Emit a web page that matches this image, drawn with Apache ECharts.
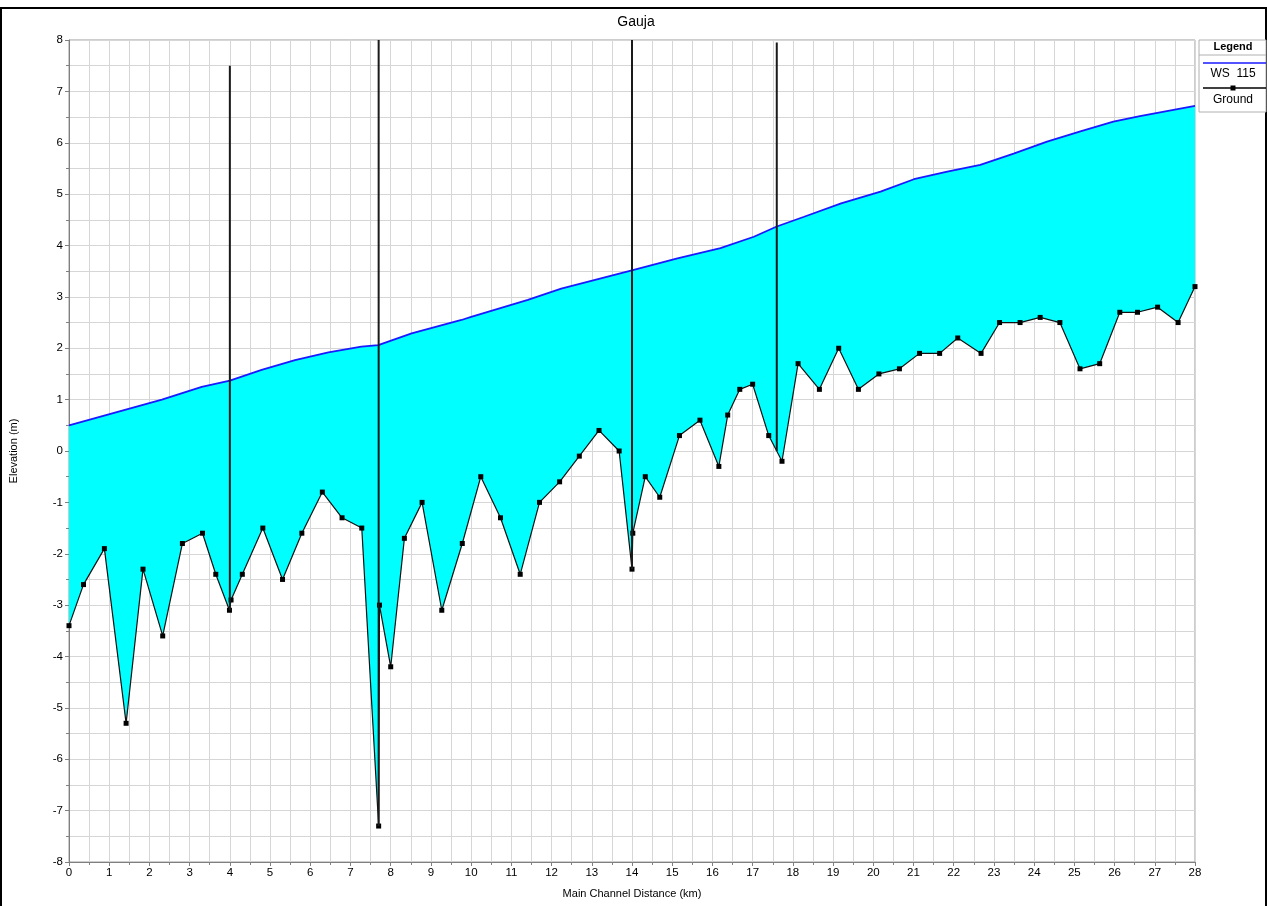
<!DOCTYPE html>
<html>
<head>
<meta charset="utf-8">
<script src="https://cdn.jsdelivr.net/npm/echarts@6/dist/echarts.min.js"></script>
<style>
html,body{margin:0;padding:0;background:#fff;}
#chart{width:1267px;height:906px;}
</style>
</head>
<body>
<div id="chart"></div>
<script>
// ---- Data ----
const chartTitle = 'Gauja';
const xAxisName = 'Main Channel Distance (km)';
const yAxisName = 'Elevation (m)';
const wsName = 'WS  115';
const groundName = 'Ground';

const wsX = [0, 2.31, 3.3, 4.0, 4.79, 5.62, 6.45, 7.27, 7.69, 8.52, 9.76, 10.0, 11.41, 12.24, 14.02, 15.13, 16.2, 17.03, 17.6, 18.28, 19.2, 20.18, 21.01, 21.84, 22.66, 23.49, 24.32, 25.15, 25.97, 26.63, 28];
const wsY = [0.5, 1.0, 1.25, 1.37, 1.58, 1.77, 1.92, 2.03, 2.06, 2.29, 2.55, 2.61, 2.94, 3.16, 3.52, 3.75, 3.95, 4.17, 4.37, 4.56, 4.82, 5.05, 5.29, 5.44, 5.57, 5.79, 6.02, 6.22, 6.41, 6.52, 6.72];

const groundX = [0.0, 0.36, 0.88, 1.42, 1.84, 2.33, 2.82, 3.32, 3.65, 3.99, 4.03, 4.31, 4.82, 5.31, 5.79, 6.30, 6.79, 7.28, 7.70, 7.72, 8.00, 8.34, 8.78, 9.27, 9.78, 10.24, 10.73, 11.22, 11.70, 12.20, 12.69, 13.18, 13.68, 14.00, 14.02, 14.33, 14.69, 15.18, 15.69, 16.16, 16.38, 16.68, 17.00, 17.40, 17.73, 18.13, 18.66, 19.14, 19.63, 20.14, 20.65, 21.15, 21.65, 22.10, 22.68, 23.14, 23.65, 24.15, 24.64, 25.14, 25.63, 26.13, 26.57, 27.07, 27.58, 28.00];
const groundY = [-3.4, -2.6, -1.9, -5.3, -2.3, -3.6, -1.8, -1.6, -2.4, -3.1, -2.9, -2.4, -1.5, -2.5, -1.6, -0.8, -1.3, -1.5, -7.3, -3.0, -4.2, -1.7, -1.0, -3.1, -1.8, -0.5, -1.3, -2.4, -1.0, -0.6, -0.1, 0.4, 0.0, -2.3, -1.6, -0.5, -0.9, 0.3, 0.6, -0.3, 0.7, 1.2, 1.3, 0.3, -0.2, 1.7, 1.2, 2.0, 1.2, 1.5, 1.6, 1.9, 1.9, 2.2, 1.9, 2.5, 2.5, 2.6, 2.5, 1.6, 1.7, 2.7, 2.7, 2.8, 2.5, 3.2];

// vertical structure lines (station, bottom, top)
const structX = [4.0, 7.7, 14.0, 17.6];
const structBottom = [-3.1, -7.3, -2.3, 0.0];
const structTop = [7.5, 8.0, 8.0, 7.95];

const xMin = 0, xMax = 28, xStep = 1;
const yMin = -8, yMax = 8, yStep = 1;

// ---- Chart ----
const FONT = '"Liberation Sans", Arial, sans-serif';
const chart = echarts.init(document.getElementById('chart'), null, {renderer: 'canvas'});

const wsData = wsX.map((x, i) => [x, wsY[i]]);
const groundData = groundX.map((x, i) => [x, groundY[i]]);
const structData = structX.map((x, i) => [x, structBottom[i], structTop[i]]);

const gridColor = '#d6d6d6';

const option = {
  animation: false,
  backgroundColor: '#ffffff',
  title: {
    text: chartTitle,
    left: 631,
    top: 10,
    textAlign: 'center',
    textStyle: {fontFamily: FONT, fontSize: 14, fontWeight: 'normal', color: '#000'}
  },
  grid: {left: 67, right: 72, top: 40, bottom: 44, show: true, borderColor: '#9a9a9a', borderWidth: 1},
  xAxis: {
    type: 'value', min: xMin, max: xMax, interval: xStep,
    name: xAxisName, nameLocation: 'middle', nameGap: 26,
    nameTextStyle: {fontFamily: FONT, fontSize: 11, color: '#000'},
    axisLine: {show: true, onZero: false, lineStyle: {color: '#808080'}},
    axisTick: {show: true, length: 4, lineStyle: {color: '#808080'}},
    minorTick: {show: true, splitNumber: 2, length: 3, lineStyle: {color: '#808080'}},
    axisLabel: {fontFamily: FONT, fontSize: 11.5, color: '#000', margin: 5},
    splitLine: {show: true, lineStyle: {color: gridColor, width: 1}},
    minorSplitLine: {show: true, lineStyle: {color: gridColor, width: 1}}
  },
  yAxis: {
    type: 'value', min: yMin, max: yMax, interval: yStep,
    name: yAxisName, nameLocation: 'middle', nameGap: 50, nameRotate: 90,
    nameTextStyle: {fontFamily: FONT, fontSize: 11, color: '#000'},
    axisLine: {show: true, onZero: false, lineStyle: {color: '#808080'}},
    axisTick: {show: true, length: 4, lineStyle: {color: '#808080'}},
    minorTick: {show: true, splitNumber: 2, length: 3, lineStyle: {color: '#808080'}},
    axisLabel: {fontFamily: FONT, fontSize: 11.5, color: '#000', margin: 6},
    splitLine: {show: true, lineStyle: {color: gridColor, width: 1}},
    minorSplitLine: {show: true, lineStyle: {color: gridColor, width: 1}}
  },
  series: [
    {
      name: 'fill',
      type: 'custom',
      clip: true,
      z: 1,
      silent: true,
      data: [[0, 0]],
      renderItem: function (params, api) {
        const pts = [];
        for (let i = 0; i < wsX.length; i++) pts.push(api.coord([wsX[i], wsY[i]]));
        for (let i = groundX.length - 1; i >= 0; i--) pts.push(api.coord([groundX[i], groundY[i]]));
        return {type: 'polygon', shape: {points: pts}, style: {fill: '#00ffff', stroke: null}};
      }
    },
    {
      name: wsName,
      type: 'line',
      z: 3,
      data: wsData,
      showSymbol: false,
      symbol: 'none',
      lineStyle: {color: '#1a1aff', width: 1.8}
    },
    {
      name: groundName,
      type: 'line',
      z: 4,
      data: groundData,
      symbol: 'rect',
      symbolSize: 5,
      itemStyle: {color: '#000'},
      lineStyle: {color: '#111', width: 1.2}
    },
    {
      name: 'structures',
      type: 'custom',
      clip: true,
      z: 5,
      silent: true,
      data: structData,
      renderItem: function (params, api) {
        const p1 = api.coord([api.value(0), api.value(1)]);
        const p2 = api.coord([api.value(0), api.value(2)]);
        return {type: 'line', shape: {x1: p1[0], y1: p1[1], x2: p2[0], y2: p2[1]}, style: {stroke: '#1a1a1a', lineWidth: 2}};
      }
    }
  ],
  graphic: [
    {type: 'rect', shape: {x: 1, y: 8, width: 1265, height: 930}, style: {fill: null, stroke: '#000', lineWidth: 2}, z: 100, silent: true},
    {type: 'rect', shape: {x: 1199, y: 40, width: 67, height: 72}, style: {fill: '#fff', stroke: '#b0b0b0', lineWidth: 1}, z: 100},
    {type: 'text', x: 1233, y: 47, style: {text: 'Legend', font: 'bold 11px ' + FONT, fill: '#000', textAlign: 'center', textVerticalAlign: 'middle'}, z: 101},
    {type: 'line', shape: {x1: 1199, y1: 55, x2: 1266, y2: 55}, style: {stroke: '#b0b0b0', lineWidth: 1}, z: 101},
    {type: 'line', shape: {x1: 1203, y1: 63, x2: 1266, y2: 63}, style: {stroke: '#1a1aff', lineWidth: 1.5}, z: 101},
    {type: 'text', x: 1233, y: 74, style: {text: wsName, font: '12px ' + FONT, fill: '#000', textAlign: 'center', textVerticalAlign: 'middle'}, z: 101},
    {type: 'line', shape: {x1: 1203, y1: 88, x2: 1266, y2: 88}, style: {stroke: '#000', lineWidth: 1.3}, z: 101},
    {type: 'rect', shape: {x: 1230.5, y: 85.5, width: 5, height: 5}, style: {fill: '#000'}, z: 102},
    {type: 'text', x: 1233, y: 100, style: {text: groundName, font: '12px ' + FONT, fill: '#000', textAlign: 'center', textVerticalAlign: 'middle'}, z: 101}
  ]
};

chart.setOption(option);
</script>
</body>
</html>
